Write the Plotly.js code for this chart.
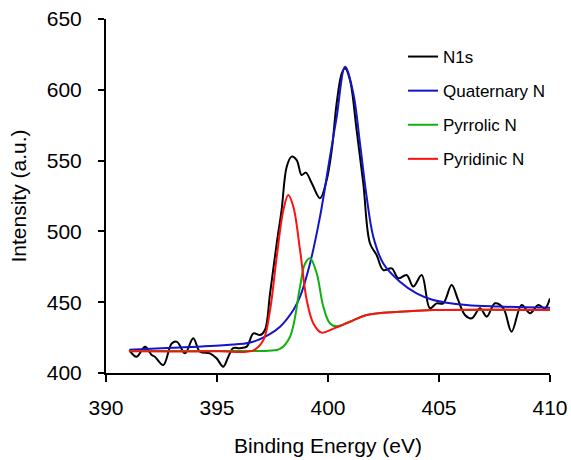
<!DOCTYPE html>
<html>
<head>
<meta charset="utf-8">
<script src="https://cdn.plot.ly/plotly-3.0.1.min.js"></script>
<style>html,body{margin:0;padding:0;background:#fff;}#chart{width:571px;height:460px;}</style>
</head>
<body>
<div id="chart"></div>
<script>
// N1s measured spectrum
const n1sX = [391.05,391.38,391.76,392.06,392.2,392.58,392.96,393.2,393.56,393.93,394.23,394.68,394.98,395.28,395.51,395.73,396.03,396.34,396.64,396.94,397.16,397.39,397.69,397.91,398.14,398.36,398.59,398.81,399.0,399.27,399.64,399.94,400.17,400.39,400.62,400.77,400.99,401.29,401.59,401.89,402.19,402.49,402.87,403.17,403.54,403.84,404.22,404.59,404.89,405.19,405.57,405.86,406.17,406.47,406.85,407.15,407.52,407.9,408.27,408.72,409.1,409.47,409.77,410.0];
const n1sY = [416.2,411.5,418.6,412.7,411.5,405.6,420.9,422.0,413.9,424.5,415.0,413.9,410.4,404.5,411.5,417.5,417.5,418.6,428.0,426.8,430.4,456.3,491.6,515.1,545.7,552.8,550.4,539.8,541.5,534.0,523.4,536.3,557.5,590.5,611.6,615.2,606.9,571.6,534.0,491.6,483.3,472.7,473.9,466.9,469.2,461.0,469.2,445.7,449.2,449.2,462.1,451.6,441.0,438.6,445.7,439.8,449.2,445.7,429.2,448.0,442.2,448.0,445.7,452.7];

// Quaternary N fit
const quatX = [391.05,393.0,395.43,396.5,397.3,397.84,398.44,398.74,399.19,399.64,400.09,400.39,400.77,401.14,401.44,401.74,402.04,402.49,403.24,403.99,404.74,406.24,407.74,410.0];
const quatY = [416.5,417.8,419.8,421.5,426.8,432.7,444.5,453.9,477.4,510.4,552.8,580.8,616.3,597.5,562.2,524.5,496.3,477.4,464.5,456.3,451.6,448.0,446.9,446.0];

// Pyrrolic N fit
const pyrrX = [391.05,395.0,397.3,397.84,398.29,398.74,398.96,399.19,399.49,399.79,400.09,400.39,400.99,401.74,403.24,404.74,410.0];
const pyrrY = [415.5,415.5,415.8,417.0,425.6,461.0,477.0,481.0,470.4,446.8,435.0,433.0,436.2,441.0,443.3,444.5,444.5];

// Pyridinic N fit
const pyriX = [391.05,395.0,396.64,397.09,397.39,397.69,397.99,398.21,398.44,398.74,399.04,399.34,399.71,400.24,400.99,401.74,403.24,404.74,410.0];
const pyriY = [415.3,415.3,416.0,423.3,444.5,482.1,515.1,525.7,517.4,486.9,451.6,435.0,428.5,431.3,436.2,441.0,443.3,444.5,444.5];

const names = ['N1s','Quaternary N','Pyrrolic N','Pyridinic N'];
const colors = ['#000000','#1414c8','#10b010','#ff1010'];
const xs = [n1sX, quatX, pyrrX, pyriX];
const ys = [n1sY, quatY, pyrrY, pyriY];

const traces = names.map((n,i)=>({
  x: xs[i], y: ys[i], name: n, type:'scatter', mode:'lines',
  legendgroup: 'g'+i,
  line:{color:colors[i], width:2, shape:'spline', smoothing:1}
}));

const layout = {
  width:571, height:460,
  margin:{l:106, r:21, t:19, b:87},
  paper_bgcolor:'#fff', plot_bgcolor:'#fff',
  font:{family:'Liberation Sans, Arial, sans-serif', color:'#000', size:21},
  showlegend:true,
  legend:{x:0.669, y:0.9435, xanchor:'left', yanchor:'top', bgcolor:'rgba(0,0,0,0)',
          font:{size:17}, tracegroupgap:9, itemwidth:30},
  xaxis:{range:[390,410], dtick:5, tick0:390, showgrid:false, zeroline:false,
         showline:true, linecolor:'#000', linewidth:2, ticks:'outside', ticklen:7, tickwidth:2, tickcolor:'#000',
         ticklabelstandoff:8,
         tickfont:{size:21}, title:{text:'Binding Energy (eV)', font:{size:21}, standoff:20}},
  yaxis:{range:[400,650], dtick:50, tick0:400, showgrid:false, zeroline:false,
         showline:true, linecolor:'#000', linewidth:2, ticks:'outside', ticklen:6, tickwidth:2, tickcolor:'#000',
         ticklabelstandoff:12,
         tickfont:{size:21}, title:{text:'Intensity (a.u.)', font:{size:21}, standoff:14}}
};

Plotly.newPlot('chart', traces, layout, {displayModeBar:false, staticPlot:true});
</script>
</body>
</html>
